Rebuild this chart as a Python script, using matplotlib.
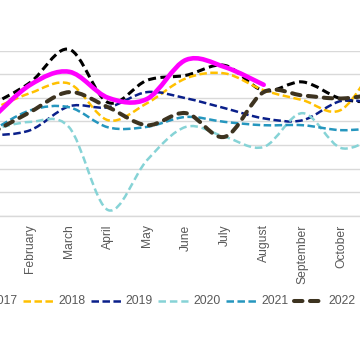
import matplotlib
matplotlib.use("Agg")
import matplotlib.pyplot as plt
from matplotlib.path import Path
from matplotlib.patches import PathPatch
from matplotlib.lines import Line2D

plt.rcParams['font.family'] = ['Liberation Sans', 'DejaVu Sans']
plt.rcParams['lines.scale_dashes'] = False

months = ['January', 'February', 'March', 'April', 'May', 'June', 'July',
          'August', 'September', 'October', 'November']

# values (y axis units: gridline every 10)
y2017 = [47, 56.5, 70.5, 48, 57.4, 59.5, 63.7, 53, 56.7, 49.5, 48]
y2018 = [45, 52, 56, 40.5, 47.7, 58.2, 60.3, 53.2, 49, 45, 68]
y2019 = [34, 36.3, 46.4, 46, 52.4, 49.8, 45.6, 41.3, 40.5, 48.7, 47]
y2020 = [36.5, 39.8, 37.5, 2.5, 23.6, 37.7, 33.5, 29.2, 43.5, 28.7, 35]
y2021 = [36, 44.7, 46, 37.5, 37.7, 41.9, 39.8, 38.4, 38.4, 36.3, 37.5]
y2022 = [35, 44, 52.4, 46, 38.4, 43.5, 33.5, 52.4, 51, 49.7, 52]
y2023 = [41, 55.5, 61, 50, 49.5, 66, 63, 55.5]

series = [
    # label, values, color, width(pt), dashes(pt) or None, capstyle
    ('2017', y2017, '#000000', 2.2, (5.8, 3.2), 'butt'),
    ('2018', y2018, '#FFC000', 1.8, (5.4, 2.5), 'butt'),
    ('2019', y2019, '#0A1F8A', 1.8, (5.4, 2.5), 'butt'),
    ('2020', y2020, '#86D3D6', 1.8, (5.4, 2.8), 'butt'),
    ('2021', y2021, '#2596BE', 1.8, (5.4, 2.5), 'butt'),
    ('2022', y2022, '#3D3320', 2.9, (6.1, 5.4), 'round'),
    ('2023', y2023, '#FF00FF', 3.3, None, 'round'),
]


def smooth_path(xs, ys):
    # excel-like smoothed line: cubic bezier through every point
    pts = list(zip(xs, ys))
    n = len(pts)
    verts = [pts[0]]
    codes = [Path.MOVETO]
    for i in range(n - 1):
        p0 = pts[i - 1] if i > 0 else pts[i]
        p1 = pts[i]
        p2 = pts[i + 1]
        p3 = pts[i + 2] if i + 2 < n else pts[i + 1]
        c1 = (p1[0] + (p2[0] - p0[0]) / 6, p1[1] + (p2[1] - p0[1]) / 6)
        c2 = (p2[0] - (p3[0] - p1[0]) / 6, p2[1] - (p3[1] - p1[1]) / 6)
        verts += [c1, c2, p2]
        codes += [Path.CURVE4] * 3
    return Path(verts, codes)


W, H = 360, 350
fig = plt.figure(figsize=(W / 100, H / 100), dpi=100)
ax = fig.add_axes([0, (H - 216) / H, 1, (216 - 50.5) / H])

for k, (label, vals, color, lw, dashes, cap) in enumerate(series):
    xs = list(range(len(vals)))
    ls = '-' if dashes is None else (0, dashes)
    patch = PathPatch(smooth_path(xs, vals), fill=False, edgecolor=color,
                      linewidth=lw, linestyle=ls, capstyle=cap,
                      joinstyle='round', clip_on=False, zorder=3 + k)
    ax.add_patch(patch)

ax.set_yticks(range(0, 71, 10))
ax.set_yticklabels([])
ax.set_xticks(range(len(months)))
ax.set_xticklabels(months, rotation=90, fontsize=8.7, color='#595959')
# month spacing ~38.9 px, February at ~30.3 px (set after ticks, set_xticks widens the view)
ax.set_xlim(1 - 30.3 / 38.9, 1 + (W - 30.3) / 38.9)
ax.set_ylim(0, 70)
ax.tick_params(axis='both', length=0)
ax.tick_params(axis='x', pad=6)
ax.grid(axis='y', color='#D9D9D9', linewidth=1.0)
ax.set_axisbelow(True)
for side in ['top', 'left', 'right']:
    ax.spines[side].set_visible(False)
ax.spines['bottom'].set_color('#D9D9D9')
ax.spines['bottom'].set_linewidth(1.0)

# legend row below the axis, entries ~67.7 px apart
leg_y = (H - 300.7) / H
for k, (label, vals, color, lw, dashes, cap) in enumerate(series):
    x0 = 23 + (k - 1) * 67.7
    ls = '-' if dashes is None else (0, dashes)
    ln = Line2D([x0 / W, (x0 + 30) / W], [leg_y, leg_y], transform=fig.transFigure,
                color=color, linewidth=lw, linestyle=ls, dash_capstyle=cap,
                solid_capstyle=cap)
    fig.add_artist(ln)
    fig.text((x0 + 35) / W, leg_y, label, fontsize=8.7, color='#595959',
             va='center', ha='left')

fig.savefig('out.png', dpi=100, facecolor='white')
